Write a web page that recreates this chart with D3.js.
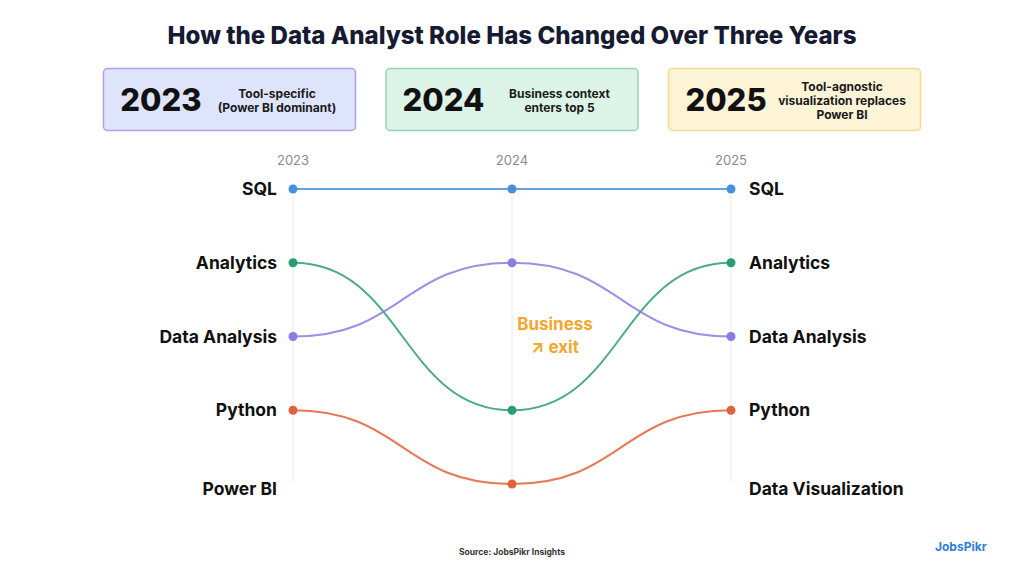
<!DOCTYPE html>
<html>
<head>
<meta charset="utf-8">
<script src="https://cdn.jsdelivr.net/npm/d3@7"></script>
<style>
  html, body { margin: 0; padding: 0; background: #ffffff; }
  svg { display: block; font-family: Inter, "Noto Sans", sans-serif; }
</style>
</head>
<body>
<svg id="chart" width="1024" height="576"></svg>
<script>
// ---- data ----
const years = ["2023", "2024", "2025"];
const skills = ["SQL", "Analytics", "Data Analysis", "Python"];
const sqlRanks = [1, 1, 1];
const analyticsRanks = [2, 4, 2];
const dataAnalysisRanks = [3, 2, 3];
const pythonRanks = [4, 5, 4];
const leftLabels = ["SQL", "Analytics", "Data Analysis", "Python", "Power BI"];
const rightLabels = ["SQL", "Analytics", "Data Analysis", "Python", "Data Visualization"];
const boxYears = ["2023", "2024", "2025"];
const boxNotes = [
  ["Tool-specific", "(Power BI dominant)"],
  ["Business context", "enters top 5"],
  ["Tool-agnostic", "visualization replaces", "Power BI"]
];
const annotation = ["Business", "\u2197 exit"];
const titleText = "How the Data Analyst Role Has Changed Over Three Years";
const sourceText = "Source: JobsPikr Insights";

const seriesRanks = [sqlRanks, analyticsRanks, dataAnalysisRanks, pythonRanks];
const colors = ["#4a8fdc", "#2b9e6f", "#8a7ce2", "#e0623a"];
const boxFill = ["#dfe4fd", "#dcf4e7", "#fdf3d7"];
const boxStroke = ["#b89ded", "#93d3b3", "#f4d98e"];

const svg = d3.select("#chart");

// ---- scales ----
const x = d3.scalePoint().domain(years).range([293, 731]);
const y = d3.scaleLinear().domain([1, 5]).range([189, 484]);

// ---- title ----
svg.append("text")
  .attr("x", 512).attr("y", 44)
  .attr("text-anchor", "middle")
  .attr("font-size", 24.5).attr("font-weight", 800)
  .attr("fill", "#161b33")
  .attr("textLength", 689).attr("lengthAdjust", "spacingAndGlyphs")
  .text(titleText);

// ---- boxes ----
const boxX = d3.scaleBand().domain(boxYears).range([103, 920]).paddingInner(0.108);
boxYears.forEach((yr, i) => {
  const g = svg.append("g").attr("transform", `translate(${boxX(yr)},68)`);
  const w = boxX.bandwidth();
  g.append("rect").attr("x", 0.5).attr("y", 0.5).attr("width", w).attr("height", 62)
    .attr("rx", 4).attr("fill", boxFill[i]).attr("stroke", boxStroke[i]).attr("stroke-width", 1.5);
  g.append("text").attr("x", 58).attr("y", 43).attr("text-anchor", "middle")
    .attr("font-size", 31).attr("font-weight", 800).attr("fill", "#111").text(yr);
  const lines = boxNotes[i];
  const lh = 14;
  const cy = 33 - (lines.length - 1) * lh / 2;
  lines.forEach((ln, j) => {
    g.append("text").attr("x", 174).attr("y", cy + j * lh + 4)
      .attr("text-anchor", "middle").attr("font-size", 12).attr("font-weight", 700)
      .attr("fill", "#1a1a1a").text(ln);
  });
});

// ---- year headers & gridlines ----
years.forEach(yr => {
  svg.append("text").attr("x", x(yr)).attr("y", 165).attr("text-anchor", "middle")
    .attr("font-size", 13).attr("fill", "#8a8a8a").text(yr);
  svg.append("line").attr("x1", x(yr)).attr("x2", x(yr)).attr("y1", 196).attr("y2", 482)
    .attr("stroke", "#f0f0f0").attr("stroke-width", 1.5);
});

// ---- lines ----
const line = d3.line().x(d => x(d.year)).y(d => y(d.rank)).curve(d3.curveBumpX);
skills.forEach((s, i) => {
  const pts = years.map((yr, j) => ({ year: yr, rank: seriesRanks[i][j] }));
  svg.append("path").attr("d", line(pts)).attr("fill", "none")
    .attr("stroke", colors[i]).attr("stroke-width", 2).attr("stroke-opacity", 0.85);
});
skills.forEach((s, i) => {
  years.forEach((yr, j) => {
    svg.append("circle").attr("cx", x(yr)).attr("cy", y(seriesRanks[i][j])).attr("r", 4.5)
      .attr("fill", colors[i]);
  });
});

// ---- side labels ----
leftLabels.forEach((lab, i) => {
  svg.append("text").attr("x", x(years[0]) - 16).attr("y", y(i + 1) + 6 + (i === 4 ? 5 : 0))
    .attr("text-anchor", "end").attr("font-size", 17.5).attr("font-weight", 700)
    .attr("fill", "#111").text(lab);
});
rightLabels.forEach((lab, i) => {
  svg.append("text").attr("x", x(years[2]) + 18).attr("y", y(i + 1) + 6 + (i === 4 ? 5 : 0))
    .attr("text-anchor", "start").attr("font-size", 17.5).attr("font-weight", 700)
    .attr("fill", "#111").text(lab);
});

// ---- annotation ----
annotation.forEach((ln, i) => {
  svg.append("text").attr("x", 555).attr("y", y(3) - 7 + i * 23).attr("text-anchor", "middle")
    .attr("font-size", 17).attr("font-weight", 700).attr("fill", "#f2a72e").text(ln);
});

// ---- footer ----
svg.append("text").attr("x", 512).attr("y", 555).attr("text-anchor", "middle")
  .attr("font-size", 8.5).attr("font-weight", 700).attr("fill", "#333").text(sourceText);
svg.append("text").attr("x", 935).attr("y", 551)
  .attr("font-size", 12).attr("font-weight", 700).attr("fill", "#2d7fd8").text("JobsPikr");
</script>
</body>
</html>
